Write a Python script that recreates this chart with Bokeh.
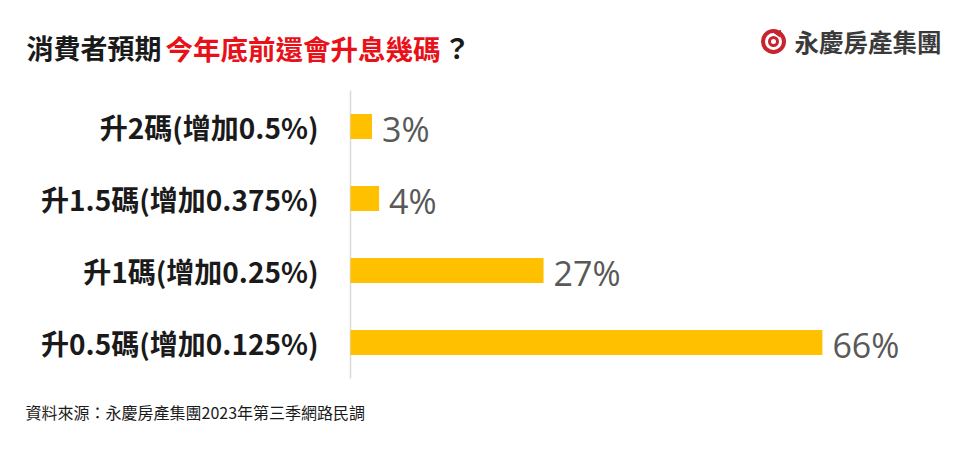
from bokeh.plotting import figure
from bokeh.models import ColumnDataSource, Range1d
from bokeh.core.properties import value
from bokeh.embed import file_html
from bokeh.resources import INLINE

categories = ["升0.5碼(增加0.125%)", "升1碼(增加0.25%)", "升1.5碼(增加0.375%)", "升2碼(增加0.5%)"]
values = [66, 27, 4, 3]
value_labels = ["66%", "27%", "4%", "3%"]

title_black1 = "消費者預期"
title_red = "今年底前還會升息幾碼"
title_black2 = "？"
source_note = "資料來源：永慶房產集團2023年第三季網路民調"
logo_text = "永慶房產集團"

# ---- layout (pixels) ----
W, H = 952, 446
AX_X = 350          # page x of the value axis (0%)
PX_PER_PCT = 7.15
BAND = 72           # px per category
TOP, BOT = 90, 378  # page y of category block

x0 = -AX_X / PX_PER_PCT
x1 = (W - AX_X) / PX_PER_PCT
n = len(categories)
y0 = -0.5 - (H - BOT) / BAND
y1 = n - 0.5 + TOP / BAND

def dx(px):
    return (px - AX_X) / PX_PER_PCT

def dy(py):
    return (BOT - py) / BAND - 0.5

pos = list(range(n))
src = ColumnDataSource(dict(cat=categories, val=values, lab=value_labels, pos=pos,
                            zero=[0] * n))

p = figure(width=W, height=H, output_backend="svg", toolbar_location=None,
           x_range=Range1d(x0, x1), y_range=Range1d(y0, y1),
           min_border=0, min_border_left=0, min_border_right=0,
           min_border_top=0, min_border_bottom=0)
p.outline_line_color = None
p.background_fill_color = "white"
p.border_fill_color = "white"
p.grid.visible = False
p.axis.visible = False

# axis line
p.segment(x0=[0], y0=[-0.5], x1=[0], y1=[n - 0.5], line_color="#d9d9d9", line_width=1.5)

p.hbar(y="pos", right="val", left="zero", height=0.35, source=src,
       fill_color="#FFC000", line_color=None)
p.text(x="val", y="pos", text="lab", source=src, x_offset=10, y_offset=2,
       text_font=value("Open Sans"), text_font_size="34px", text_color="#595959",
       text_baseline="middle", text_align="left")
p.text(x="zero", y="pos", text="cat", source=src, x_offset=-32,
       text_font=value("Noto Sans CJK TC"), text_font_style="bold",
       text_font_size="28px", text_color="#1a1a1a",
       text_baseline="middle", text_align="right")

tf = "Noto Sans CJK TC"
def lab(x, y, text, size, color, style="normal", font=tf):
    p.text(x=[dx(x)], y=[dy(y)], text=[text], text_font=value(font),
           text_font_size=size, text_color=color, text_baseline="middle",
           text_align="left", text_font_style=style)

lab(26, 47, title_black1, "27px", "#1a1a1a", "bold")
lab(165, 47, title_red, "27.5px", "#e8111a", "bold")
lab(443, 47, title_black2, "27px", "#1a1a1a", "bold")
lab(25, 411, source_note, "16px", "#1a1a1a")
lab(794, 41, logo_text, "24.5px", "#3a3a3a", "bold")

# logo mark
p.scatter(x=[dx(773)], y=[dy(41)], marker="circle", size=21, fill_color=None,
          line_color="#c8242f", line_width=4)
p.scatter(x=[dx(773)], y=[dy(41)], marker="circle", size=8, fill_color=None,
          line_color="#c8242f", line_width=3)
p.scatter(x=[dx(778)], y=[dy(33)], marker="triangle", size=8, angle=-0.6,
          fill_color="#c8242f", line_color=None)

open("out.html", "w").write(file_html(p, INLINE))
